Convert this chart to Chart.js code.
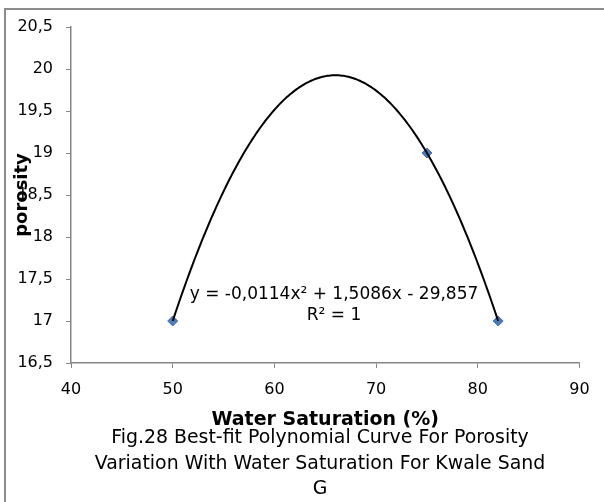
<!DOCTYPE html>
<html>
<head>
<meta charset="utf-8">
<script src="https://cdn.jsdelivr.net/npm/chart.js@4.4.0/dist/chart.umd.min.js"></script>
<style>
  html, body { margin: 0; padding: 0; background: #fff; overflow: hidden; }
  #wrap { position: relative; width: 604px; height: 502px; }
  #frame { position: absolute; left: 4px; top: 8px; width: 700px; height: 600px; border: 2px solid #8c8c8c; box-sizing: border-box; }
  canvas { position: absolute; left: 0; top: 0; }
</style>
</head>
<body>
<div id="wrap">
  <div id="frame"></div>
  <canvas id="porosity-chart" width="604" height="502"></canvas>
</div>
<script>
// Data
const waterSaturation = [50, 75, 82];
const porosity = [17, 19, 17];

const xTicks = [40, 50, 60, 70, 80, 90];
const yTicks = [16.5, 17, 17.5, 18, 18.5, 19, 19.5, 20, 20.5];

const equationLines = ['y = -0,0114x² + 1,5086x - 29,857', 'R² = 1'];
const captionLines = [
  'Fig.28 Best-fit Polynomial Curve For Porosity',
  'Variation With Water Saturation For Kwale Sand',
  'G'
];

// Least squares quadratic fit (what the trendline is)
function polyFit(xs, ys, degree) {
  const n = degree + 1;
  const m = [];
  for (let r = 0; r < n; r++) {
    m.push([]);
    for (let c = 0; c < n; c++) {
      let s = 0;
      xs.forEach(x => { s += Math.pow(x, r + c); });
      m[r].push(s);
    }
    let t = 0;
    xs.forEach((x, i) => { t += ys[i] * Math.pow(x, r); });
    m[r].push(t);
  }
  // gaussian elimination
  for (let i = 0; i < n; i++) {
    let p = i;
    for (let k = i + 1; k < n; k++) if (Math.abs(m[k][i]) > Math.abs(m[p][i])) p = k;
    [m[i], m[p]] = [m[p], m[i]];
    for (let k = i + 1; k < n; k++) {
      const f = m[k][i] / m[i][i];
      for (let c = i; c <= n; c++) m[k][c] -= f * m[i][c];
    }
  }
  const coef = new Array(n).fill(0);
  for (let i = n - 1; i >= 0; i--) {
    let s = m[i][n];
    for (let c = i + 1; c < n; c++) s -= m[i][c] * coef[c];
    coef[i] = s / m[i][i];
  }
  return coef; // c0 + c1 x + c2 x^2
}
const fit = polyFit(waterSaturation, porosity, 2);

const trendlinePlugin = {
  id: 'trendline',
  afterDatasetsDraw(chart) {
    const ctx = chart.ctx;
    const xs = chart.scales.x, ys = chart.scales.y;
    const x0 = Math.min(...waterSaturation), x1 = Math.max(...waterSaturation);
    ctx.save();
    ctx.beginPath();
    ctx.strokeStyle = '#000';
    ctx.lineWidth = 2;
    const steps = 200;
    for (let i = 0; i <= steps; i++) {
      const x = x0 + (x1 - x0) * i / steps;
      const y = fit[0] + fit[1] * x + fit[2] * x * x;
      const px = xs.getPixelForValue(x), py = ys.getPixelForValue(y);
      if (i === 0) ctx.moveTo(px, py); else ctx.lineTo(px, py);
    }
    ctx.stroke();
    ctx.restore();
  },
  afterDraw(chart) {
    const ctx = chart.ctx;
    ctx.save();
    ctx.fillStyle = '#000';
    ctx.textAlign = 'center';
    ctx.textBaseline = 'alphabetic';
    ctx.font = '17px "DejaVu Sans"';
    ctx.fillText(equationLines[0], 334, 299);
    ctx.fillText(equationLines[1], 334, 320);
    ctx.font = '18.9px "DejaVu Sans"';
    captionLines.forEach((t, i) => ctx.fillText(t, 320, 443 + i * 25.5));
    ctx.restore();
  }
};

const ctx = document.getElementById('porosity-chart').getContext('2d');

const porosityChart = new Chart(ctx, {
  type: 'scatter',
  data: {
    datasets: [{
      label: 'porosity',
      data: waterSaturation.map((x, i) => ({ x: x, y: porosity[i] })),
      pointStyle: 'rectRot',
      pointRadius: 5,
      backgroundColor: '#4a7ebb',
      borderColor: '#3f6fa8',
      borderWidth: 1,
      showLine: false
    }]
  },
  options: {
    responsive: false,
    animation: false,
    layout: { padding: { left: 0, top: 27, right: 24.5, bottom: 59 } },
    plugins: {
      legend: { display: false },
      tooltip: { enabled: false }
    },
    scales: {
      x: {
        type: 'linear',
        min: 40,
        max: 90,
        afterBuildTicks: (scale) => { scale.ticks = xTicks.map(v => ({ value: v })); },
        afterFit: (scale) => { scale.height = 80; },
        ticks: {
          color: '#000',
          padding: 12,
          maxRotation: 0,
          font: { family: 'DejaVu Sans', size: 16 }
        },
        grid: { drawOnChartArea: false, drawTicks: true, tickLength: 5, color: '#868686' },
        border: { color: '#868686', width: 1.5 },
        title: {
          display: true,
          text: 'Water Saturation (%)',
          color: '#000',
          padding: { top: 0, bottom: 12 },
          font: { family: 'DejaVu Sans', size: 19, weight: 'bold' }
        }
      },
      y: {
        min: 16.5,
        max: 20.5,
        afterBuildTicks: (scale) => { scale.ticks = yTicks.map(v => ({ value: v })); },
        afterFit: (scale) => { scale.width = 71; },
        ticks: {
          color: '#000',
          padding: 13,
          font: { family: 'DejaVu Sans', size: 16 },
          callback: (v) => String(v).replace('.', ',')
        },
        grid: { drawOnChartArea: false, drawTicks: true, tickLength: 5, color: '#868686' },
        border: { color: '#868686', width: 1.5 },
        title: {
          display: true,
          text: 'porosity',
          color: '#000',
          padding: { top: 12, bottom: 0 },
          font: { family: 'DejaVu Sans', size: 18, weight: 'bold' }
        }
      }
    }
  },
  plugins: [trendlinePlugin]
});
</script>
</body>
</html>
